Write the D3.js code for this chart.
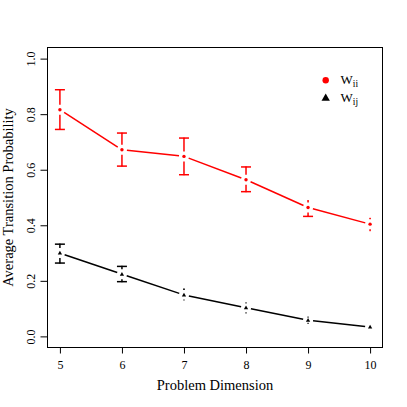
<!DOCTYPE html>
<html>
<head>
<meta charset="utf-8">
<script src="https://cdn.jsdelivr.net/npm/d3@7"></script>
<style>
html,body{margin:0;padding:0;background:#fff;}
svg{display:block;}
text{font-family:"Liberation Serif","DejaVu Serif",serif;fill:#000;}
</style>
</head>
<body>
<svg id="chart" width="407" height="407"></svg>
<script>
// ---- data ----
const dims = [5, 6, 7, 8, 9, 10];
const wiiMean = [0.816, 0.672, 0.648, 0.564, 0.464, 0.404];
const wiiLow  = [0.745, 0.613, 0.582, 0.521, 0.432, 0.381];
const wiiHigh = [0.888, 0.732, 0.714, 0.610, 0.489, 0.425];
const wijMean = [0.300, 0.224, 0.149, 0.103, 0.058, 0.034];
const wijLow  = [0.264, 0.197, 0.131, 0.085, 0.047, 0.030];
const wijHigh = [0.332, 0.252, 0.171, 0.121, 0.069, 0.038];
const yTicks = [0.0, 0.2, 0.4, 0.6, 0.8, 1.0];
const xLabel = "Problem Dimension";
const yLabel = "Average Transition Probability";

const svg = d3.select("#chart");
const pLeft = 47.5, pRight = 382.5, pTop = 47.5, pBottom = 347.5;
const x = d3.scaleLinear().domain([4.8, 10.2]).range([pLeft, pRight]);
const y = d3.scaleLinear().domain([-0.04, 1.04]).range([pBottom, pTop]);

// box
svg.append("rect").attr("x", pLeft).attr("y", pTop)
  .attr("width", pRight - pLeft).attr("height", pBottom - pTop)
  .attr("fill", "none").attr("stroke", "#000").attr("stroke-width", 1);

// axes
const xAxis = d3.axisBottom(x).tickValues(dims).tickSize(6).tickPadding(6)
  .tickFormat(d3.format("d"));
const gx = svg.append("g").attr("transform", `translate(0,${pBottom})`).call(xAxis);
gx.select(".domain").attr("d", `M${x(5)},0H${x(10)}`);
gx.selectAll("text").attr("font-family", "Liberation Serif").attr("font-size", 12).attr("dy", "0.75em");

const yAxis = d3.axisLeft(y).tickValues(yTicks).tickSize(7).tickFormat(d3.format(".1f"));
const gy = svg.append("g").attr("transform", `translate(${pLeft},0)`).call(yAxis);
gy.select(".domain").attr("d", `M0,${y(0)}V${y(1)}`);
gy.selectAll(".tick text")
  .attr("font-family", "Liberation Serif").attr("font-size", 12)
  .attr("x", null).attr("dy", null)
  .attr("text-anchor", "middle")
  .attr("transform", "translate(-12.5,0) rotate(-90)");

// titles
svg.append("text").attr("x", (pLeft + pRight) / 2).attr("y", 390)
  .attr("text-anchor", "middle").attr("font-size", 14.5).text(xLabel);
svg.append("text").attr("transform", `translate(12.5,${(pTop + pBottom) / 2}) rotate(-90)`)
  .attr("text-anchor", "middle").attr("font-size", 14.5).text(yLabel);

const gap = 5, cap = 5;

function drawSeries(mean, low, high, color, shape) {
  const g = svg.append("g");
  const pts = dims.map((d, i) => ({ px: x(d), py: y(mean[i]), lo: y(low[i]), hi: y(high[i]) }));
  // connecting lines with gaps
  for (let i = 0; i < pts.length - 1; i++) {
    const a = pts[i], b = pts[i + 1];
    const dx = b.px - a.px, dy = b.py - a.py, len = Math.hypot(dx, dy);
    const ux = dx / len, uy = dy / len;
    g.append("line")
      .attr("x1", a.px + ux * gap).attr("y1", a.py + uy * gap)
      .attr("x2", b.px - ux * gap).attr("y2", b.py - uy * gap)
      .attr("stroke", color).attr("stroke-width", 1.5);
  }
  // error bars
  pts.forEach(p => {
    [[p.hi, -1], [p.lo, 1]].forEach(([end, dir]) => {
      const start = p.py + dir * gap;
      const len = (end - start) * dir;
      if (len > 0) {
        g.append("line").attr("x1", p.px).attr("x2", p.px)
          .attr("y1", start).attr("y2", end)
          .attr("stroke", color).attr("stroke-width", 1.5);
        if (len > 2) {
          g.append("line").attr("x1", p.px - cap).attr("x2", p.px + cap)
            .attr("y1", end).attr("y2", end)
            .attr("stroke", color).attr("stroke-width", 1.5);
        }
      }
      if (Math.abs(end - p.py) > 2.5) {
        g.append("line").attr("x1", p.px).attr("x2", p.px)
          .attr("y1", end - 0.6).attr("y2", end + 0.6)
          .attr("stroke", color).attr("stroke-width", 1.2);
      }
    });
    if (shape === "circle") {
      g.append("circle").attr("cx", p.px).attr("cy", p.py).attr("r", 1.7).attr("fill", color);
    } else {
      g.append("path").attr("d", d3.symbol(d3.symbolTriangle, 8)())
        .attr("transform", `translate(${p.px},${p.py + 0.3})`).attr("fill", color);
    }
  });
}

drawSeries(wiiMean, wiiLow, wiiHigh, "#ff0000", "circle");
drawSeries(wijMean, wijLow, wijHigh, "#000000", "triangle");

// legend
const lg = svg.append("g");
lg.append("circle").attr("cx", 325.7).attr("cy", 80.3).attr("r", 3.2).attr("fill", "#ff0000");
lg.append("path").attr("d", d3.symbol(d3.symbolTriangle, 30)())
  .attr("transform", "translate(325.7,98.3)").attr("fill", "#000");
const t1 = lg.append("text").attr("x", 340.5).attr("y", 84.3).attr("font-size", 13);
t1.append("tspan").text("W");
t1.append("tspan").attr("dy", 2.5).attr("font-size", 9.5).text("ii");
const t2 = lg.append("text").attr("x", 340.5).attr("y", 102).attr("font-size", 13);
t2.append("tspan").text("W");
t2.append("tspan").attr("dy", 2.5).attr("font-size", 9.5).text("ij");
</script>
</body>
</html>
